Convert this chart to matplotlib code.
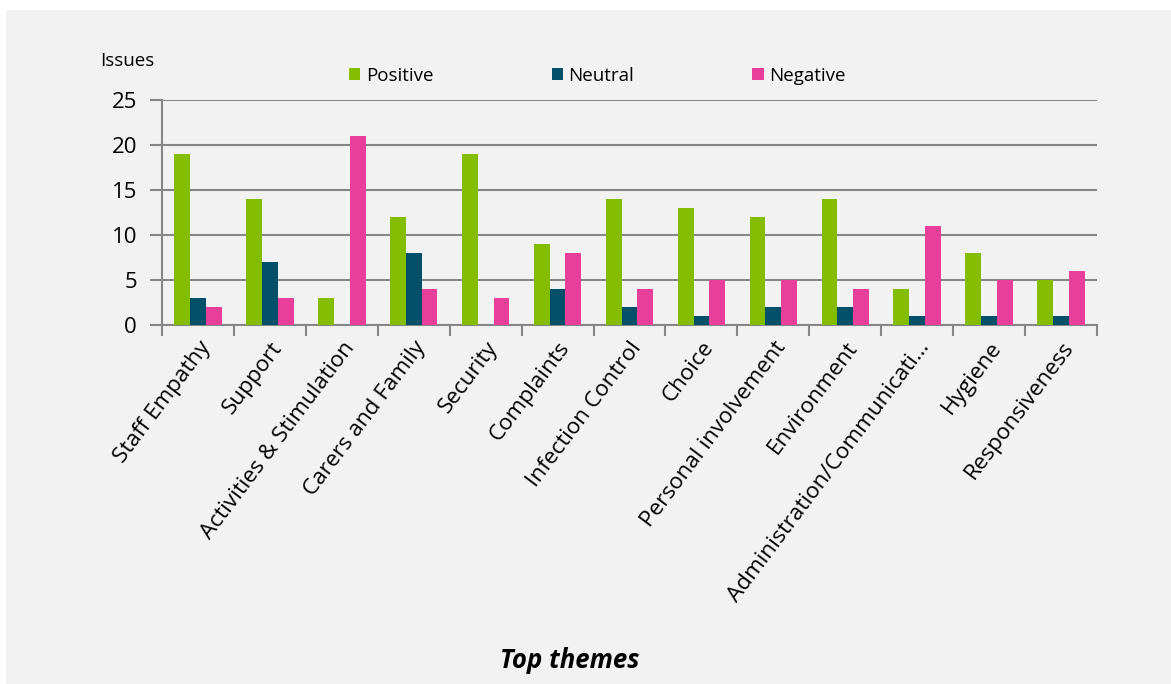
import numpy as np
import matplotlib.pyplot as plt
from matplotlib.ticker import FixedLocator

# ---------------------------
# Data
# ---------------------------
themes = [
    "Staff Empathy", "Support", "Activities & Stimulation", "Carers and Family",
    "Security", "Complaints", "Infection Control", "Choice",
    "Personal involvement", "Environment", "Administration/Communicati\u2026",
    "Hygiene", "Responsiveness",
]
positive = [19, 14, 3, 12, 19, 9, 14, 13, 12, 14, 4, 8, 5]
neutral = [3, 7, 0, 8, 0, 4, 2, 1, 2, 2, 1, 1, 1]
negative = [2, 3, 21, 4, 3, 8, 4, 5, 5, 4, 11, 5, 6]

c_pos = "#84BD00"
c_neu = "#005069"
c_neg = "#E8409A"
grid_c = "#868686"

plt.rcParams['font.family'] = ['Open Sans', 'DejaVu Sans']

fig = plt.figure(figsize=(11.71, 6.84), dpi=100)
fig.patch.set_facecolor("white")
# gray panel behind everything
fig.patches.append(plt.Rectangle((6 / 1171, 0), 1, 1 - 10 / 684,
                                 transform=fig.transFigure, facecolor="#F2F2F2",
                                 edgecolor="none", zorder=-10))

ax = fig.add_axes([162 / 1171, 1 - 325 / 684, (1097 - 162) / 1171, 225 / 684])
ax.set_facecolor("none")

x = np.arange(len(themes))
w = 0.22
ax.bar(x - w, positive, w, color=c_pos, label="Positive", zorder=3)
ax.bar(x, neutral, w, color=c_neu, label="Neutral", zorder=3)
ax.bar(x + w, negative, w, color=c_neg, label="Negative", zorder=3)

ax.set_xlim(-0.5, len(themes) - 0.5)
ax.set_ylim(0, 25)
ax.set_yticks([0, 5, 10, 15, 20, 25])
ax.yaxis.grid(True, color=grid_c, linewidth=1.5, zorder=0)
ax.tick_params(axis="y", labelsize=16, colors=grid_c, labelcolor="black",
               length=9, width=1.5, pad=9)

# category boundaries as major ticks, labels on minor ticks
ax.xaxis.set_major_locator(FixedLocator(np.arange(-0.5, len(themes), 1.0)))
ax.set_xticklabels([])
ax.xaxis.set_minor_locator(FixedLocator(x))
ax.set_xticklabels(themes, minor=True, rotation=53, ha="right",
                   rotation_mode="anchor", fontsize=16.2)
ax.tick_params(axis="x", which="major", length=8, width=1.5, colors=grid_c)
ax.tick_params(axis="x", which="minor", length=0, pad=9, labelcolor="black")

for s in ["top", "right"]:
    ax.spines[s].set_visible(False)
for s in ["left", "bottom"]:
    ax.spines[s].set_color(grid_c)
    ax.spines[s].set_linewidth(1.5)

fig.text(100 / 1171, 1 - 61 / 684, "Issues", fontsize=13.5, va="center")

fig.legend(loc="center left", bbox_to_anchor=(349 / 1171, 1 - 76 / 684),
           ncol=3, frameon=False, fontsize=13.5, handlelength=0.6,
           handleheight=0.6, handletextpad=0.3, columnspacing=6.3,
           borderpad=0, borderaxespad=0)

fig.text(570 / 1171, 1 - 660 / 684, "Top themes", fontsize=18.5,
         fontweight="bold", fontstyle="italic", ha="center", va="center")

fig.savefig("out.png", dpi=100)
